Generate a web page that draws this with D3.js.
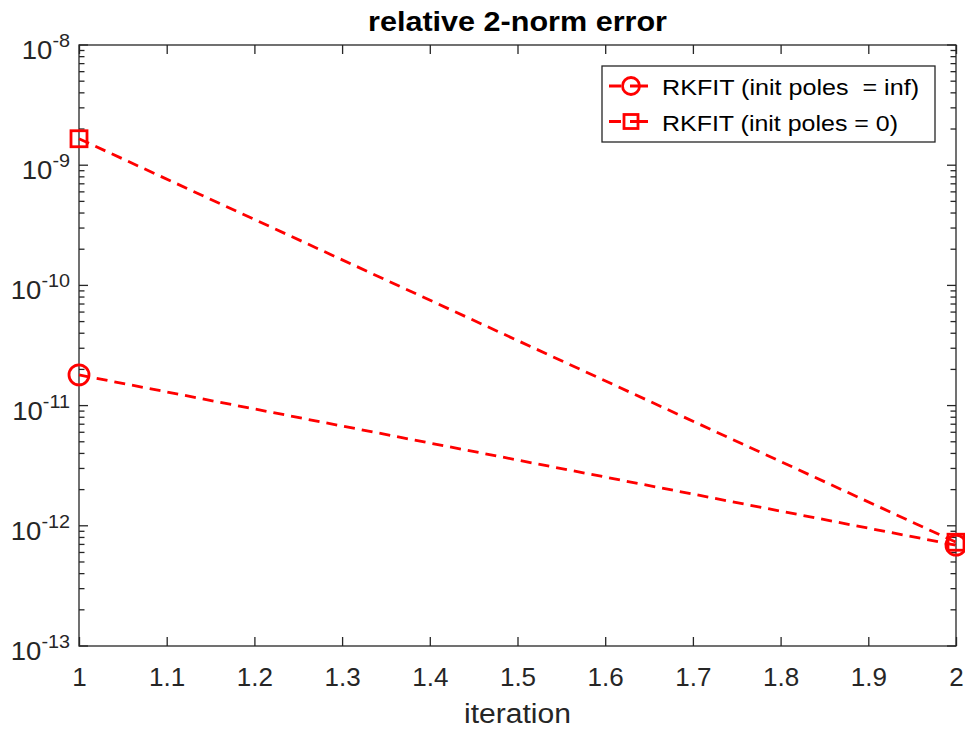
<!DOCTYPE html>
<html><head><meta charset="utf-8">
<script src="https://cdn.jsdelivr.net/npm/d3@7"></script>
<style>
body{margin:0;background:#fff}
text{font-family:"Liberation Sans",Arial,Helvetica,sans-serif}
</style>
</head><body>
<svg id="c" width="965" height="731"></svg>
<script>
// ---- data ----
const iterations = [1, 2];
const seriesNames = ["RKFIT (init poles  = inf)", "RKFIT (init poles = 0)"];
const errInitInf = [1.8e-11, 6.9e-13];
const errInitZero = [1.66e-9, 7.3e-13];
const xTickValues = [1, 1.1, 1.2, 1.3, 1.4, 1.5, 1.6, 1.7, 1.8, 1.9, 2];
const yTickExponents = [-13, -12, -11, -10, -9, -8];
const titleText = "relative 2-norm error";
const xLabelText = "iteration";

// ---- layout ----
const L = 79, R = 956, T = 45, B = 646;
const axisColor = "#262626";
const red = "#ff0000";
const svg = d3.select("#c");

const x = d3.scaleLinear().domain([1, 2]).range([L, R]);
const y = d3.scaleLog().domain([1e-13, 1e-8]).range([B, T]);

const minor = [];
yTickExponents.slice(0, -1).forEach(e => {
  for (let k = 2; k <= 9; k++) minor.push(k * Math.pow(10, e));
});
const major = yTickExponents.map(e => Math.pow(10, e));

const ax = svg.append("g").attr("stroke", axisColor).attr("stroke-width", 1.3);
ax.append("rect").attr("x", L).attr("y", T).attr("width", R - L).attr("height", B - T)
  .attr("fill", "none");

const xAxisB = svg.append("g").attr("transform", `translate(0,${B})`)
  .call(d3.axisBottom(x).tickValues(xTickValues).tickSize(-9).tickPadding(0)
    .tickFormat(d => String(+d.toFixed(1))));
xAxisB.select(".domain").remove();
xAxisB.selectAll("line").attr("stroke", axisColor).attr("stroke-width", 1.3);
xAxisB.selectAll("text").attr("y", 40).attr("dy", null)
  .attr("fill", axisColor).style("font-size", "26px")
  .style("font-family", '"Liberation Sans",Arial,sans-serif');

const xAxisT = svg.append("g").attr("transform", `translate(0,${T})`)
  .call(d3.axisTop(x).tickValues(xTickValues).tickSize(-9).tickFormat(""));
xAxisT.select(".domain").remove();
xAxisT.selectAll("line").attr("stroke", axisColor).attr("stroke-width", 1.3);

function yTicks(side) {
  const g = svg.append("g");
  const x0 = side === "left" ? L : R;
  const dir = side === "left" ? 1 : -1;
  g.selectAll("line.maj").data(major).join("line")
    .attr("x1", x0).attr("x2", x0 + dir * 9)
    .attr("y1", d => y(d)).attr("y2", d => y(d))
    .attr("stroke", axisColor).attr("stroke-width", 1.3);
  g.selectAll("line.min").data(minor).join("line")
    .attr("x1", x0).attr("x2", x0 + dir * 5.5)
    .attr("y1", d => y(d)).attr("y2", d => y(d))
    .attr("stroke", axisColor).attr("stroke-width", 1.3);
}
yTicks("left"); yTicks("right");

const yl = svg.append("g").attr("fill", axisColor);
yTickExponents.forEach(e => {
  const yy = y(Math.pow(10, e)) + 14;
  const t = yl.append("text").attr("x", 70).attr("y", yy)
    .attr("text-anchor", "end").style("font-size", "25px")
    .attr("transform", `translate(70,0) scale(1.1,1) translate(-70,0)`);
  t.append("tspan").text("10");
  t.append("tspan").attr("dy", -12).style("font-size", "18px").text(String(e));
});

svg.append("text").attr("x", (L + R) / 2).attr("y", 31).attr("text-anchor", "middle")
  .attr("textLength", 299).attr("lengthAdjust", "spacingAndGlyphs")
  .style("font-size", "27px").style("font-weight", "bold").attr("fill", "#000").text(titleText);
svg.append("text").attr("x", (L + R) / 2).attr("y", 723).attr("text-anchor", "middle")
  .attr("textLength", 107).attr("lengthAdjust", "spacingAndGlyphs")
  .style("font-size", "27px").attr("fill", axisColor).text(xLabelText);

const series = [
  {name: seriesNames[0], vals: errInitInf, marker: "circle", textLen: 257},
  {name: seriesNames[1], vals: errInitZero, marker: "square", textLen: 236}
];
const line = d3.line().x((d, i) => x(iterations[i])).y(d => y(d));
const plot = svg.append("g");
series.forEach(s => {
  plot.append("path").attr("d", line(s.vals)).attr("fill", "none")
    .attr("stroke", red).attr("stroke-width", 2.8).attr("stroke-dasharray", "11,7");
});
function drawMarker(g, type, cx, cy, size) {
  if (type === "circle") {
    g.append("circle").attr("cx", cx).attr("cy", cy).attr("r", size / 2)
      .attr("fill", "none").attr("stroke", red).attr("stroke-width", 2.8);
  } else {
    g.append("rect").attr("x", cx - size / 2).attr("y", cy - size / 2)
      .attr("width", size).attr("height", size)
      .attr("fill", "none").attr("stroke", red).attr("stroke-width", 2.8);
  }
}
series.forEach(s => {
  s.vals.forEach((v, i) => drawMarker(plot, s.marker, x(iterations[i]), y(v), s.marker === "circle" ? 20 : 16));
});

const lg = svg.append("g");
lg.append("rect").attr("x", 602).attr("y", 66).attr("width", 333).attr("height", 76)
  .attr("fill", "#fff").attr("stroke", axisColor).attr("stroke-width", 1.3);
series.forEach((s, i) => {
  const cy = 86 + i * 35.5;
  lg.append("line").attr("x1", 609).attr("x2", 648).attr("y1", cy).attr("y2", cy)
    .attr("stroke", red).attr("stroke-width", 2.8).attr("stroke-dasharray", "12,9,18");
  drawMarker(lg, s.marker, 631, cy, s.marker === "circle" ? 17 : 14);
  lg.append("text").attr("x", 662).attr("y", cy + 9).style("font-size", "22px")
    .attr("textLength", s.textLen).attr("lengthAdjust", "spacingAndGlyphs")
    .style("white-space", "pre").attr("fill", "#000").text(s.name);
});
</script>
</body></html>
